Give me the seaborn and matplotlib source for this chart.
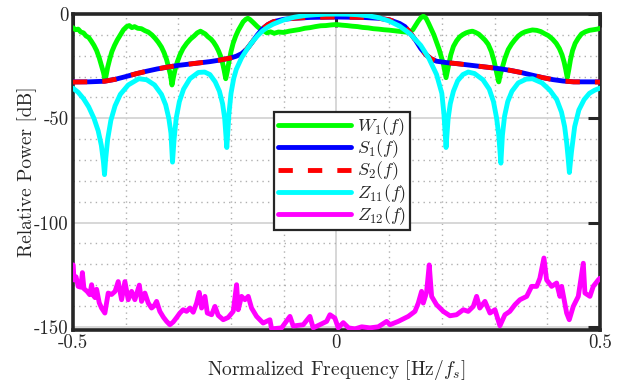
import numpy as np
import pandas as pd
import matplotlib
matplotlib.use("Agg")
import matplotlib.pyplot as plt
import seaborn as sns

# ---------------- data ----------------
w1_f = [-0.500, -0.495, -0.490, -0.485, -0.480, -0.475, -0.470, -0.465, -0.460, -0.455, -0.450, -0.446,
        -0.442, -0.439, -0.437, -0.434, -0.430, -0.426, -0.421, -0.416, -0.410, -0.404, -0.398, -0.393,
        -0.388, -0.383, -0.377, -0.370, -0.363, -0.357, -0.350, -0.344, -0.338, -0.332, -0.327, -0.322,
        -0.318, -0.315, -0.312, -0.309, -0.306, -0.302, -0.297, -0.291, -0.284, -0.277, -0.270, -0.264,
        -0.258, -0.254, -0.249, -0.244, -0.238, -0.233, -0.228, -0.224, -0.220, -0.216, -0.213, -0.210,
        -0.207, -0.204, -0.200, -0.196, -0.191, -0.186, -0.181, -0.177, -0.172, -0.168, -0.164, -0.158,
        -0.150, -0.144, -0.138, -0.132, -0.125, -0.118, -0.110, -0.100, -0.090, -0.080, -0.070, -0.060,
        -0.050, -0.040, -0.030, -0.020, -0.010, 0.000, 0.010, 0.020, 0.030, 0.040, 0.050, 0.060, 0.070,
        0.080, 0.090, 0.100, 0.110, 0.120, 0.130, 0.138, 0.145, 0.150, 0.155, 0.160, 0.165, 0.170, 0.175,
        0.180, 0.185, 0.190, 0.195, 0.199, 0.203, 0.206, 0.208, 0.210, 0.213, 0.217, 0.222, 0.228, 0.234,
        0.240, 0.246, 0.252, 0.258, 0.264, 0.270, 0.276, 0.282, 0.288, 0.294, 0.299, 0.303, 0.308, 0.311,
        0.315, 0.320, 0.326, 0.332, 0.338, 0.345, 0.352, 0.358, 0.365, 0.372, 0.380, 0.388, 0.395, 0.402,
        0.410, 0.417, 0.423, 0.428, 0.432, 0.435, 0.438, 0.441, 0.444, 0.448, 0.453, 0.459, 0.465, 0.472,
        0.480, 0.488, 0.495, 0.500]
w1_db = [-6.5, -7.5, -7.2, -8.6, -9.0, -10.5, -11.2, -13.0, -15.0, -17.5, -21.0, -24.5,
         -28.0, -31.5, -29.5, -25.5, -21.5, -18.0, -15.0, -12.5, -10.0, -7.5, -6.0, -5.5,
         -6.5, -6.0, -6.8, -7.0, -8.0, -8.6, -10.0, -11.6, -13.5, -15.8, -18.5, -22.0,
         -26.0, -29.0, -34.0, -30.0, -26.5, -23.0, -19.6, -16.5, -14.0, -12.0, -10.5, -9.0,
         -8.2, -8.8, -9.5, -10.8, -12.0, -13.5, -15.5, -17.5, -20.0, -23.5, -27.0, -31.0,
         -27.5, -23.0, -18.0, -14.0, -10.5, -7.7, -5.5, -3.7, -2.5, -2.0, -2.6, -4.0,
         -6.0, -7.2, -8.0, -9.0, -8.5, -9.2, -8.6, -8.8, -8.2, -7.8, -7.4, -6.8,
         -6.5, -6.0, -5.6, -5.5, -5.2, -5.0, -5.3, -5.5, -5.8, -6.0, -6.4, -6.6, -7.0,
         -7.2, -7.5, -7.7, -8.0, -8.3, -8.6, -8.8, -7.5, -5.5, -3.5, -1.8, -1.0, -2.0, -4.5,
         -7.2, -10.0, -13.5, -17.0, -20.5, -24.0, -28.0, -30.5, -28.0, -24.0, -19.5, -15.5, -12.8, -10.9,
         -9.8, -9.0, -8.5, -8.2, -8.8, -9.6, -11.0, -12.5, -14.5, -18.0, -22.5, -27.0, -32.5, -29.0,
         -25.5, -21.0, -17.0, -14.5, -12.5, -10.5, -9.2, -8.5, -8.0, -7.6, -7.8, -8.4, -9.4, -10.3,
         -12.0, -14.0, -16.5, -19.5, -23.0, -26.5, -30.5, -26.5, -22.0, -17.5, -14.0, -11.5, -9.5, -8.5,
         -7.8, -7.5, -7.2, -6.8]

s1_f = [-0.50, -0.47, -0.44, -0.42, -0.40, -0.38, -0.36, -0.34, -0.32, -0.30, -0.28, -0.26, -0.24,
        -0.22, -0.20, -0.19, -0.18, -0.17, -0.16, -0.15, -0.14, -0.13, -0.12, -0.10, -0.08, -0.05,
        0.00, 0.05, 0.08, 0.10, 0.12, 0.13, 0.14, 0.15, 0.16, 0.17, 0.18, 0.19, 0.21, 0.23, 0.25,
        0.27, 0.29, 0.31, 0.33, 0.35, 0.37, 0.39, 0.41, 0.43, 0.45, 0.50]
s1_db = [-32.5, -32.5, -32.2, -31.3, -30.0, -28.6, -27.4, -26.3, -25.4, -24.6, -24.0, -23.4, -22.8,
         -22.0, -21.0, -20.2, -19.0, -16.8, -13.5, -10.0, -7.0, -5.0, -3.7, -2.5, -2.0, -1.6,
         -1.4, -1.6, -2.0, -2.7, -4.5, -6.0, -9.0, -12.5, -16.5, -19.5, -21.5, -22.6, -23.3, -23.8, -24.4,
         -25.0, -25.6, -26.2, -27.0, -28.0, -29.2, -30.4, -31.4, -32.1, -32.5, -32.5]

s2_f = [-0.50, -0.47, -0.44, -0.42, -0.40, -0.38, -0.36, -0.34, -0.32, -0.30, -0.28, -0.26, -0.24,
        -0.22, -0.20, -0.19, -0.18, -0.17, -0.16, -0.15, -0.14, -0.13, -0.12, -0.10, -0.08, -0.05,
        0.00, 0.05, 0.08, 0.10, 0.12, 0.13, 0.14, 0.15, 0.16, 0.17, 0.18, 0.19, 0.21, 0.23, 0.25,
        0.27, 0.29, 0.31, 0.33, 0.35, 0.37, 0.39, 0.41, 0.43, 0.45, 0.50]
s2_db = [-32.6, -32.5, -32.2, -31.3, -30.0, -28.6, -27.4, -26.3, -25.4, -24.6, -24.0, -23.4, -22.8,
         -22.0, -21.0, -20.2, -19.0, -16.8, -13.5, -10.0, -7.0, -5.0, -3.7, -2.5, -2.0, -1.6,
         -1.4, -1.6, -2.0, -2.7, -4.5, -6.0, -9.0, -12.5, -16.5, -19.5, -21.5, -22.6, -23.3, -23.8, -24.4,
         -25.0, -25.6, -26.2, -27.0, -28.0, -29.2, -30.4, -31.4, -32.1, -32.5, -32.6]

z11_f = [-0.500, -0.490, -0.480, -0.470, -0.460, -0.452, -0.446, -0.442, -0.440, -0.438, -0.434, -0.428,
         -0.420, -0.410, -0.395, -0.375, -0.360, -0.345, -0.332, -0.324, -0.318, -0.314, -0.311, -0.308,
         -0.304, -0.298, -0.290, -0.278, -0.262, -0.250, -0.240, -0.230, -0.222, -0.216, -0.212, -0.208,
         -0.204, -0.200, -0.195, -0.190, -0.180, -0.170, -0.160, -0.150, -0.140, -0.130, -0.120, -0.100,
         -0.080, -0.060, -0.040, -0.020, 0.000, 0.020, 0.040, 0.060, 0.080, 0.100, 0.120, 0.140, 0.160,
         0.175, 0.190, 0.200, 0.204, 0.208, 0.212, 0.216, 0.222, 0.230, 0.240, 0.250, 0.262, 0.278,
         0.290, 0.298, 0.304, 0.308, 0.312, 0.315, 0.319, 0.325, 0.333, 0.345, 0.360, 0.372, 0.390,
         0.405, 0.418, 0.427, 0.433, 0.437, 0.440, 0.442, 0.446, 0.452, 0.460, 0.470, 0.480, 0.490, 0.500]
z11_db = [-35.5, -37.5, -40.5, -44.5, -50.0, -56.0, -63.0, -71.0, -77.0, -70.0, -60.0, -51.0,
          -44.0, -38.5, -34.0, -31.0, -31.5, -34.0, -38.5, -43.5, -50.0, -57.0, -71.0, -60.0,
          -50.0, -42.0, -36.0, -31.0, -28.0, -27.8, -29.0, -32.5, -37.0, -43.0, -50.0, -64.0,
          -48.0, -38.0, -31.0, -26.5, -21.0, -17.0, -13.5, -10.5, -8.0, -6.2, -4.8, -2.8,
          -1.5, -0.7, -0.3, -0.05, 0.0, -0.05, -0.3, -0.8, -1.7, -3.3, -5.8, -9.5, -15.0,
          -21.0, -29.0, -38.0, -48.0, -64.0, -50.0, -43.0, -37.0, -32.0, -29.0, -27.8, -28.5, -31.5,
          -36.0, -42.0, -50.0, -58.0, -71.5, -58.0, -49.0, -42.0, -37.0, -33.0, -31.2, -31.0, -33.0,
          -36.5, -41.0, -47.0, -54.0, -62.0, -70.0, -76.0, -66.0, -54.0, -46.0, -41.0, -38.0, -36.5, -35.5]

z12_f = [-0.4994, -0.498, -0.494, -0.490, -0.485, -0.482, -0.479, -0.473, -0.468, -0.4645, -0.461, -0.458,
         -0.455, -0.450, -0.4456, -0.4393, -0.433, -0.4266, -0.420, -0.414, -0.4076, -0.4013, -0.395,
         -0.3886, -0.3824, -0.374, -0.3697, -0.3634, -0.357, -0.3507, -0.346, -0.3412, -0.335, -0.328,
         -0.3222, -0.316, -0.3097, -0.303, -0.297, -0.2907, -0.2843, -0.278, -0.2717, -0.2653, -0.2603,
         -0.2558, -0.2495, -0.245, -0.2368, -0.2305, -0.2243, -0.2148, -0.2053, -0.1958, -0.1894,
         -0.1863, -0.180, -0.1736, -0.1673, -0.161, -0.1515, -0.139, -0.1262, -0.123, -0.104, -0.0882,
         -0.082, -0.063, -0.0503, -0.0441, -0.0314, -0.0186, -0.0123, -0.003, 0.0034, 0.013, 0.023,
         0.035, 0.048, 0.0636, 0.0793, 0.0953, 0.1016, 0.1173, 0.1363, 0.149, 0.1553, 0.1616, 0.1648,
         0.171, 0.1761, 0.1806, 0.190, 0.2027, 0.2154, 0.228, 0.2407, 0.250, 0.2597, 0.266, 0.272,
         0.2818, 0.2913, 0.3008, 0.3102, 0.3197, 0.329, 0.3387, 0.3482, 0.361, 0.3704, 0.380, 0.386,
         0.3937, 0.3988, 0.4083, 0.4178, 0.424, 0.4273, 0.4368, 0.4418, 0.4494, 0.4589, 0.4684, 0.4715,
         0.481, 0.4873, 0.4968, 0.500]
z12_db = [-120.3, -127.5, -126.0, -130.6, -131.0, -124.0, -131.7, -133.0, -134.6, -129.8, -135.0, -136.0,
          -132.0, -138.5, -141.0, -143.4, -133.8, -134.5, -133.0, -128.3, -137.0, -128.3, -137.0,
          -133.0, -137.0, -130.0, -137.8, -133.8, -138.6, -141.0, -140.0, -137.8, -142.6, -145.5,
          -147.4, -149.0, -147.7, -145.5, -143.4, -141.8, -142.6, -141.0, -143.0, -138.6, -133.5,
          -141.0, -135.4, -143.4, -144.2, -140.2, -144.5, -146.6, -145.5, -142.6, -129.8,
          -141.8, -135.4, -137.0, -135.4, -141.0, -145.0, -148.2, -146.6, -151.0, -150.5, -145.0,
          -149.6, -149.0, -145.0, -150.5, -149.0, -147.4, -144.2, -145.8, -150.5, -148.0, -150.5,
          -151.0, -150.0, -150.5, -150.0, -147.4, -149.0, -147.4, -145.0, -142.6, -138.6, -133.0, -138.6,
          -133.5, -120.3, -135.4, -139.4, -142.6, -144.7, -144.2, -141.8, -142.6, -140.2, -135.4, -141.0,
          -137.8, -143.4, -141.8, -149.5, -144.2, -142.6, -139.4, -137.0, -135.4, -130.6, -130.6, -126.7,
          -117.0, -127.5, -130.6, -129.0, -135.4, -130.6, -143.4, -146.6, -140.2, -135.4, -119.5, -133.8,
          -135.4, -130.6, -127.5, -126.7]

series_labels = [r"$W_1(f)$", r"$S_1(f)$", r"$S_2(f)$", r"$Z_{11}(f)$", r"$Z_{12}(f)$"]
series_colors = ["#00ff00", "#0000ff", "#ff0000", "#00ffff", "#ff00ff"]

x_ticks = [-0.5, 0.0, 0.5]
x_ticklabels = ["-0.5", "0", "0.5"]
y_ticks = [0, -50, -100, -150]
y_ticklabels = ["0", "-50", "-100", "-150"]

# ---------------- style ----------------
sns.set_theme(style="white")
plt.rcParams["font.family"] = ["cmr10", "DejaVu Serif"]
plt.rcParams["mathtext.fontset"] = "cm"
plt.rcParams["axes.unicode_minus"] = False

fig = plt.figure(figsize=(6.23, 3.81), dpi=100)
ax = fig.add_axes([0.117, 0.134, 0.846, 0.829])

LW = 3.5
data = [(w1_f, w1_db), (s1_f, s1_db), (s2_f, s2_db), (z11_f, z11_db), (z12_f, z12_db)]
for i, ((fx, fy), lab, col) in enumerate(zip(data, series_labels, series_colors)):
    df = pd.DataFrame({"f": fx, "db": fy})
    sns.lineplot(data=df, x="f", y="db", ax=ax, color=col, linewidth=LW,
                 sort=False, estimator=None, label=lab, zorder=3 + i,
                 solid_joinstyle="round")
    line = ax.lines[-1]
    if i == 2:
        line.set_dashes((2.95, 3.1))

ax.set_xlim(-0.5, 0.5)
ax.set_ylim(-151.5, 0)
ax.set_xticks(x_ticks)
ax.set_xticklabels(x_ticklabels)
ax.set_yticks(y_ticks)
ax.set_yticklabels(y_ticklabels)
ax.set_xticks(np.arange(-0.5, 0.51, 0.1), minor=True)
ax.set_yticks(np.arange(-150, 1, 10), minor=True)

ax.grid(True, which="major", color="#d4d4d4", linewidth=1.3, linestyle="-", zorder=0)
ax.grid(True, which="minor", color="#b0b0b0", linewidth=1.0, linestyle=(0, (1, 3)), zorder=0)
ax.set_axisbelow(True)

ax.tick_params(which="major", direction="in", length=9, width=2.2, color="#262626",
               top=True, right=True, labelsize=13.5, pad=3)
ax.tick_params(which="minor", length=0)
for s in ax.spines.values():
    s.set_linewidth(2.6)
    s.set_color("#262626")
    s.set_visible(True)

ax.set_xlabel(r"Normalized Frequency [Hz/$f_s$]", fontsize=14)
ax.set_ylabel("Relative Power [dB]", fontsize=14)
ax.xaxis.set_label_coords(0.5, -0.088)
ax.yaxis.set_label_coords(-0.068, 0.5)

leg = ax.legend(loc="center", bbox_to_anchor=(0.511, 0.503), fontsize=13,
                handlelength=4.05, handleheight=0.6, frameon=True, fancybox=False, framealpha=1,
                edgecolor="#262626", facecolor="white", labelspacing=-0.03,
                borderpad=0.2, handletextpad=0.35, borderaxespad=0)
leg.get_frame().set_linewidth(1.6)
leg.set_zorder(20)

fig.savefig("out.png", dpi=100)
